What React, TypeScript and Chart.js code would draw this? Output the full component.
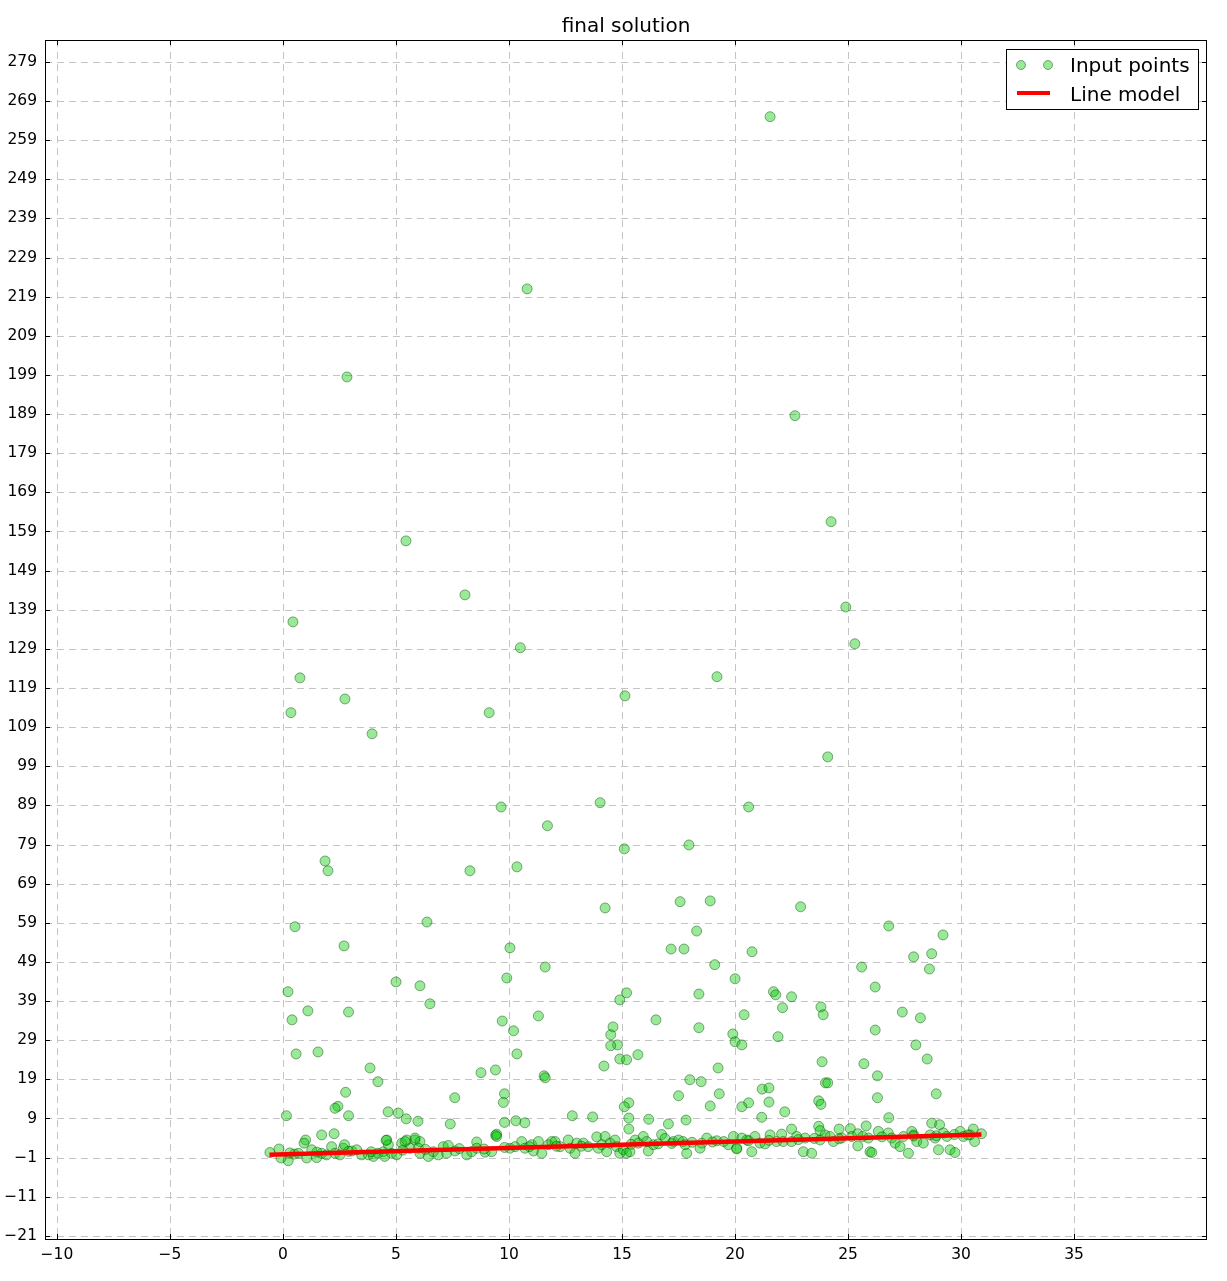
import React, { useEffect, useRef } from "react";
import { Chart, registerables } from "chart.js";

Chart.register(...registerables);

const chartTitle = "final solution";
const xTicks = [-10, -5, 0, 5, 10, 15, 20, 25, 30, 35];
const yTicks = [-21, -11, -1, 9, 19, 29, 39, 49, 59, 69, 79, 89, 99, 109, 119, 129, 139, 149, 159, 169, 179, 189, 199, 209, 219, 229, 239, 249, 259, 269, 279];
const xRange = [-10.53, 40.88];
const yRange = [-21.8, 284.6];

// Outliers far above the line
const highOutliers: [number, number][] = [
  [21.55, 265.0], [10.8, 221.0], [2.83, 198.5], [22.65, 188.6], [24.25, 161.5], [5.44, 156.6], [8.05, 142.8],
  [24.9, 139.7], [0.44, 135.9], [25.3, 130.3], [10.5, 129.3], [0.75, 121.6], [19.2, 121.9], [15.13, 117.0],
  [2.74, 116.2], [0.35, 112.7], [9.12, 112.7], [3.94, 107.3], [24.1, 101.4], [9.65, 88.6], [14.03, 89.7],
  [20.6, 88.6], [11.7, 83.8], [15.1, 77.9], [17.96, 78.9], [1.86, 74.8], [1.99, 72.3], [8.27, 72.3],
  [10.35, 73.3], [17.57, 64.4], [18.9, 64.6], [14.25, 62.8], [22.9, 63.1], [6.37, 59.2], [0.53, 58.0],
  [26.8, 58.2], [18.3, 56.9], [29.2, 55.9], [2.7, 53.1], [10.04, 52.6], [17.17, 52.3], [17.74, 52.3],
  [20.75, 51.6], [28.7, 51.1], [27.9, 50.3], [19.1, 48.3], [11.6, 47.7], [25.6, 47.7], [28.6, 47.2],
  [20.0, 44.7], [9.9, 44.9], [5.0, 43.9], [6.06, 42.9], [26.2, 42.6], [0.22, 41.4], [15.2, 41.1],
  [21.7, 41.4], [21.8, 40.6], [18.4, 40.8], [22.5, 40.1], [14.9, 39.3], [6.5, 38.3], [23.8, 37.5],
  [22.1, 37.3], [1.1, 36.5], [2.9, 36.2], [27.4, 36.2], [23.9, 35.5], [11.3, 35.2], [28.2, 34.7],
  [20.4, 35.5], [0.4, 34.2], [16.5, 34.2], [9.7, 33.9], [14.6, 32.4], [18.4, 32.2], [26.2, 31.6],
  [10.2, 31.4], [14.5, 30.4], [19.9, 30.6], [21.9, 29.9], [20.0, 28.6], [20.3, 27.8], [14.8, 27.8],
  [14.5, 27.6], [28.0, 27.8], [0.58, 25.5], [10.35, 25.5], [1.55, 26.0], [15.7, 25.3], [14.9, 24.2],
  [15.2, 24.0], [28.5, 24.2], [23.85, 23.5], [25.7, 23.0], [14.2, 22.4], [3.85, 21.9], [9.4, 21.4],
  [19.25, 21.9], [8.76, 20.7], [11.55, 19.9], [11.6, 19.4], [26.3, 19.9],
];

// Outliers a little above the line
const midOutliers: [number, number][] = [
  [18.0, 18.9], [18.5, 18.4], [24.0, 18.1], [24.1, 18.1], [4.2, 18.4], [21.2, 16.5], [21.5, 16.8],
  [19.3, 15.3], [28.9, 15.3], [2.77, 15.7], [9.8, 15.3], [7.6, 14.3], [17.5, 14.8], [26.3, 14.3],
  [23.7, 13.5], [15.3, 13.0], [9.75, 13.1], [20.6, 13.0], [23.8, 12.6], [21.5, 13.2], [15.1, 12.0],
  [2.43, 12.1], [2.3, 11.6], [18.9, 12.2], [20.3, 12.0], [22.2, 10.7], [4.65, 10.7], [5.1, 10.4],
  [0.15, 9.7], [2.9, 9.7], [12.8, 9.7], [13.7, 9.4], [21.18, 9.3], [5.45, 8.9], [5.97, 8.3],
  [9.8, 8.0], [10.3, 8.4], [10.7, 7.9], [15.3, 9.1], [16.18, 8.8], [7.4, 7.6], [17.83, 8.6],
  [26.8, 9.2], [28.7, 7.8], [29.05, 7.4], [17.05, 7.6], [15.3, 6.3], [22.5, 6.3], [23.7, 7.0],
  [25.8, 7.1], [24.6, 6.3], [25.1, 6.4],
];

// Inliers packed around the fitted line
const clusterPoints: [number, number][] = [
  [-0.58, 0.3], [-0.18, 1.2], [0.23, -1.8], [-0.09, -1.1], [1.0, 3.5], [0.93, 2.7], [0.5, -0.1],
  [0.68, 0.1], [1.05, -1.1], [1.27, 1.0], [1.49, -1.0], [1.71, 4.8], [2.26, 5.1], [1.71, 0.1],
  [1.93, -0.3], [2.15, 1.8], [2.3, 0.1], [2.52, -0.3], [2.67, 1.4], [2.72, 2.3], [3.04, 0.7],
  [3.26, 1.0], [3.48, -0.3], [3.78, -0.3], [4.0, -0.7], [4.2, 0.1], [4.44, 0.5], [4.59, 3.5],
  [4.66, 2.3], [4.5, -0.7], [4.8, 0.1], [5.25, 2.7], [5.03, -0.3],
  [5.47, 3.5], [5.84, 3.5], [6.06, 3.1], [5.62, 1.4], [5.99, 1.4], [6.06, 0.1], [6.43, -0.7],
  [6.65, 0.5], [6.87, -0.3], [7.09, 1.8], [7.31, 2.1], [7.24, 0.1], [7.61, 0.7], [8.13, -0.3],
  [8.35, 0.5], [8.57, 3.0], [8.57, 1.4], [8.94, 0.4], [9.23, 0.5], [9.41, 4.7], [9.45, 5.0],
  [10.04, 1.4], [10.27, 1.8], [10.56, 3.1], [10.7, 1.4], [11.0, 2.3], [11.08, 0.7], [11.3, 3.1],
  [11.45, 0.1], [11.74, 2.3], [11.89, 3.1],
  [12.04, 3.1], [12.26, 1.8], [12.62, 3.5], [12.7, 1.4], [12.92, 0.1], [13.0, 2.7], [13.29, 2.7],
  [13.5, 1.8], [13.88, 4.3], [13.95, 1.4], [14.25, 4.4], [14.32, 0.5], [14.47, 2.7], [14.69, 3.5],
  [14.76, 1.8], [14.9, 0.1], [15.06, 1.0], [15.2, 0.1], [15.58, 3.5], [15.72, 2.7], [15.94, 4.4],
  [16.09, 3.1], [16.16, 0.7], [16.39, 2.3], [16.75, 4.9], [16.9, 3.9], [17.27, 3.1], [17.5, 3.5],
  [17.7, 3.1], [17.86, 0.1], [17.79, 2.3], [18.53, 2.7],
  [18.75, 4.0], [19.19, 3.3], [19.7, 2.3], [19.93, 4.4], [20.08, 1.4], [20.3, 4.0], [20.52, 3.5],
  [20.74, 0.5], [20.88, 4.4], [21.1, 2.7], [21.33, 2.5], [21.55, 4.8], [21.84, 3.1], [22.06, 5.0],
  [22.13, 3.1], [22.5, 3.1], [22.73, 4.4], [23.02, 0.5], [23.1, 4.0], [23.39, 0.1], [23.76, 5.9],
  [23.76, 3.5], [23.98, 4.8], [24.2, 4.4], [24.35, 3.1], [24.72, 4.0], [25.16, 4.4],
  [25.43, 5.1], [25.65, 4.4], [25.43, 2.0], [25.97, 0.5], [26.05, 0.3], [26.34, 5.7], [26.78, 5.3],
  [26.93, 4.0], [27.08, 2.7], [27.3, 1.8], [27.45, 4.4], [27.67, 0.1], [27.82, 5.7], [27.9, 4.8],
  [28.04, 3.1], [28.33, 2.7], [28.63, 4.8], [28.85, 4.0], [29.0, 1.0], [29.22, 5.3], [29.37, 4.4],
  [29.51, 1.0], [29.73, 0.3], [29.96, 5.7], [30.1, 4.4], [30.54, 6.3], [30.6, 3.1], [30.4, 4.8],
  [30.9, 5.1],
  [18.45, 1.4], [20.07, 1.2], [15.35, 0.5], [9.45, 4.4], [5.84, 4.0], [5.4, 3.1], [4.56, 3.4],
  [0.3, 0.2], [1.5, 0.4], [2.9, 0.6], [3.9, 0.5], [5.3, 0.9], [6.3, 1.1], [7.8, 1.3], [8.9, 1.2],
  [9.8, 1.6], [10.9, 1.8], [12.1, 1.9], [13.2, 1.9], [14.1, 2.3], [15.4, 2.4], [16.6, 2.5],
  [17.2, 2.6], [18.1, 2.9], [19.0, 3.0], [19.5, 3.1], [20.6, 3.3], [21.5, 3.4], [22.8, 3.6],
  [23.5, 3.9], [24.6, 3.8], [25.9, 4.0], [26.5, 4.3], [27.9, 4.5], [28.9, 4.6], [29.7, 4.9],
  [30.3, 4.8],
];

// Line model endpoints
const lineX = [-0.6, 30.9];
const lineY = [-0.3, 4.9];

const legendLabels = ["Input points", "Line model"];

const FONT = '"DejaVu Sans", "Liberation Sans", sans-serif';
const POINT_FILL = "rgba(0,200,0,0.4)";
const POINT_EDGE = "rgba(0,70,0,0.45)";

const fmt = (v: number) => (v < 0 ? "\u2212" + Math.abs(v) : String(v));

const decorPlugin = {
  id: "decor",
  beforeDatasetsDraw(chart: any) {
    const { ctx, chartArea: a, scales } = chart;
    ctx.save();
    ctx.strokeStyle = "#c4c4c4";
    ctx.lineWidth = 1;
    ctx.setLineDash([7, 5]);
    for (const t of xTicks) {
      const px = Math.round(scales.x.getPixelForValue(t)) + 0.5;
      ctx.beginPath();
      ctx.moveTo(px, a.top);
      ctx.lineTo(px, a.bottom);
      ctx.stroke();
    }
    for (const t of yTicks) {
      const py = Math.round(scales.y.getPixelForValue(t)) + 0.5;
      ctx.beginPath();
      ctx.moveTo(a.left, py);
      ctx.lineTo(a.right, py);
      ctx.stroke();
    }
    ctx.restore();
  },
  afterDatasetsDraw(chart: any) {
    const { ctx, chartArea: a, scales } = chart;
    ctx.save();
    ctx.strokeStyle = "#000";
    ctx.lineWidth = 1;
    ctx.setLineDash([]);
    ctx.strokeRect(a.left + 0.5, a.top + 0.5, a.right - a.left - 1, a.bottom - a.top);
    const L = 5;
    ctx.beginPath();
    for (const t of xTicks) {
      const px = Math.round(scales.x.getPixelForValue(t)) + 0.5;
      ctx.moveTo(px, a.bottom);
      ctx.lineTo(px, a.bottom - L);
      ctx.moveTo(px, a.top);
      ctx.lineTo(px, a.top + L);
    }
    for (const t of yTicks) {
      const py = Math.round(scales.y.getPixelForValue(t)) + 0.5;
      ctx.moveTo(a.left, py);
      ctx.lineTo(a.left + L, py);
      ctx.moveTo(a.right, py);
      ctx.lineTo(a.right - L, py);
    }
    ctx.stroke();
    ctx.restore();
  },
  afterDraw(chart: any) {
    const { ctx, chartArea: a } = chart;
    ctx.save();
    // title
    ctx.fillStyle = "#000";
    ctx.font = `20px ${FONT}`;
    ctx.textAlign = "center";
    ctx.textBaseline = "alphabetic";
    ctx.fillText(chartTitle, (a.left + a.right) / 2, 32);
    // legend
    const bx = 1006.5, by = 49.5, bw = 192, bh = 60;
    ctx.fillStyle = "#fff";
    ctx.fillRect(bx, by, bw, bh);
    ctx.strokeStyle = "#000";
    ctx.lineWidth = 1;
    ctx.strokeRect(bx, by, bw, bh);
    for (const cx of [1021, 1048]) {
      ctx.beginPath();
      ctx.arc(cx, 65, 4.5, 0, Math.PI * 2);
      ctx.fillStyle = POINT_FILL;
      ctx.fill();
      ctx.strokeStyle = POINT_EDGE;
      ctx.stroke();
    }
    ctx.strokeStyle = "red";
    ctx.lineWidth = 4;
    ctx.beginPath();
    ctx.moveTo(1017, 93);
    ctx.lineTo(1050, 93);
    ctx.stroke();
    ctx.fillStyle = "#000";
    ctx.font = `20px ${FONT}`;
    ctx.textAlign = "left";
    ctx.fillText(legendLabels[0], 1070, 72);
    ctx.fillText(legendLabels[1], 1070, 101);
    ctx.restore();
  },
};

export default function App() {
  const canvasRef = useRef<HTMLCanvasElement | null>(null);

  useEffect(() => {
    if (!canvasRef.current) return;
    const allPoints = [...highOutliers, ...midOutliers, ...clusterPoints].map(([x, y]) => ({ x, y }));
    const linePoints = lineX.map((x, i) => ({ x, y: lineY[i] }));
    const chart = new Chart(canvasRef.current, {
      type: "scatter",
      data: {
        datasets: [
          {
            type: "line",
            label: legendLabels[1],
            data: linePoints,
            borderColor: "red",
            borderWidth: 4.5,
            pointRadius: 0,
            showLine: true,
            fill: false,
            order: 0,
          } as any,
          {
            label: legendLabels[0],
            data: allPoints,
            backgroundColor: POINT_FILL,
            borderColor: POINT_EDGE,
            borderWidth: 1,
            pointRadius: 5,
            order: 1,
          },
        ],
      },
      plugins: [decorPlugin],
      options: {
        responsive: false,
        animation: false,
        events: [],
        devicePixelRatio: 1,
        layout: { padding: { top: 40, right: 20, left: 0, bottom: 0 } },
        plugins: {
          legend: { display: false },
          tooltip: { enabled: false },
          title: { display: false },
        },
        scales: {
          x: {
            type: "linear",
            min: xRange[0],
            max: xRange[1],
            grid: { display: false, drawTicks: false },
            border: { display: false },
            afterBuildTicks: (scale: any) => {
              scale.ticks = xTicks.map((v) => ({ value: v }));
            },
            afterFit: (scale: any) => {
              scale.height = 42;
            },
            ticks: {
              autoSkip: false,
              maxRotation: 0,
              padding: 7,
              color: "#000",
              font: { family: FONT, size: 15.5 },
              callback: (v: any) => fmt(Number(v)),
            },
          },
          y: {
            type: "linear",
            min: yRange[0],
            max: yRange[1],
            grid: { display: false, drawTicks: false },
            border: { display: false },
            afterBuildTicks: (scale: any) => {
              scale.ticks = yTicks.map((v) => ({ value: v }));
            },
            afterFit: (scale: any) => {
              scale.width = 45;
            },
            ticks: {
              autoSkip: false,
              padding: 8,
              color: "#000",
              font: { family: FONT, size: 15.5 },
              callback: (v: any) => fmt(Number(v)),
            },
          },
        },
      } as any,
    });
    return () => chart.destroy();
  }, []);

  return (
    <div style={{ position: "absolute", left: 0, top: 0, width: 1227, height: 1281, background: "#fff" }}>
      <canvas ref={canvasRef} width={1227} height={1281} style={{ display: "block" }} />
    </div>
  );
}
